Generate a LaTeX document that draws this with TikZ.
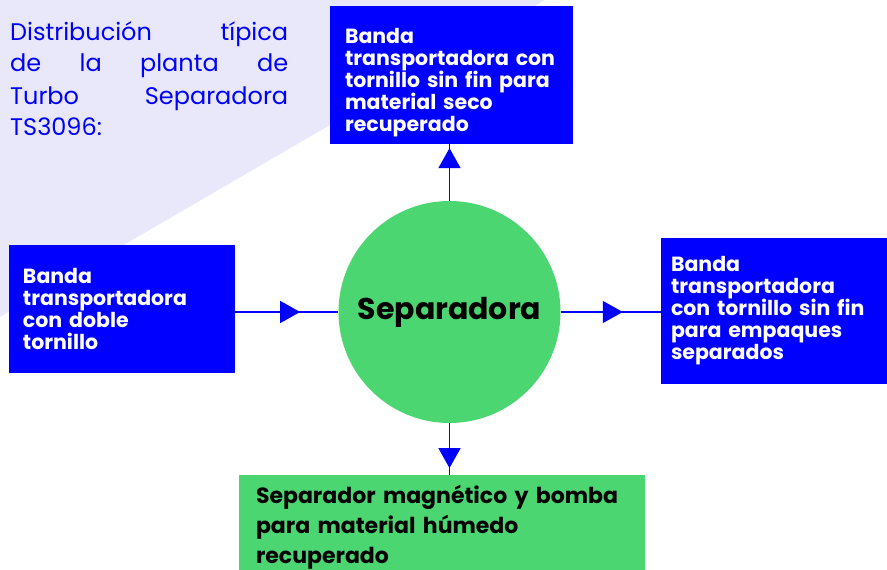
\documentclass[tikz,border=0pt]{standalone}
\usepackage{fontspec}
\setmainfont{Poppins}
\usetikzlibrary{arrows.meta,decorations.markings}
\definecolor{azul}{RGB}{0,0,255}
\definecolor{verde}{RGB}{76,214,114}
\definecolor{lila}{RGB}{232,232,250}
\begin{document}
\begin{tikzpicture}[x=1pt, y=-1pt,
    caja/.style = {shape=rectangle, fill=azul, text=white,
      align=left, inner xsep=0pt,
      font=\fontsize{20.5pt}{22pt}\selectfont\bfseries},
    flujo/.style = {draw=azul, line width=1.5pt, postaction={decorate},
      decoration={markings, mark=at position #1 with
        {\arrow{Triangle[width=22pt,length=20pt]}}}}]
  \useasboundingbox (0,0) rectangle (887,570);
  \clip (0,0) rectangle (887,570);
  \fill[lila] (0,0) -- (545,0) -- (0,317) -- cycle;
  \node[anchor=base west, text width=278pt, align=left, inner sep=0pt,
    text=azul, font=\fontsize{24pt}{32pt}\selectfont] (titulo) at (10,40)
    {Distribución\hfill típica\\ de\hfill la\hfill planta\hfill de\\
     Turbo\hfill Separadora\\ TS3096:};
  \node[shape=circle, fill=verde, minimum size=222pt, inner sep=0pt,
    font=\fontsize{30pt}{32pt}\selectfont\bfseries] (sep) at (449.5,312)
    {Separadora};
  \node[caja, minimum width=243pt, minimum height=138pt, text width=213pt]
    (seco) at (451.5,75)
    {\rule{0pt}{30pt}Banda\\ transportadora con\\ tornillo sin fin para\\ material seco\\ recuperado};
  \node[caja, minimum width=226pt, minimum height=128pt, text width=198pt]
    (doble) at (122,309)
    {Banda\\ transportadora\\ con doble\\ tornillo};
  \node[caja, minimum width=226pt, minimum height=146pt, text width=206pt]
    (empaques) at (774,311)
    {Banda\\ transportadora\\ con tornillo sin fin\\ para empaques\\ separados};
  \node[caja, fill=verde, text=black, minimum width=406pt, minimum height=104pt,
    text width=372pt, font=\fontsize{22pt}{30pt}\selectfont\bfseries]
    (humedo) at (442,527)
    {Separador magnético y bomba\\ para material húmedo\\ recuperado};
  % flechas
  \draw[flujo=0.63] (sep.west -| doble.east) -- (sep.west);
  \draw[flujo=0.62] (sep.east) -- (sep.east -| empaques.west);
  \draw[flujo=0.93] (sep.north) -- (sep.north |- seco.south);
  \draw[flujo=0.87] (sep.south) -- (sep.south |- humedo.north);
\end{tikzpicture}
\end{document}
